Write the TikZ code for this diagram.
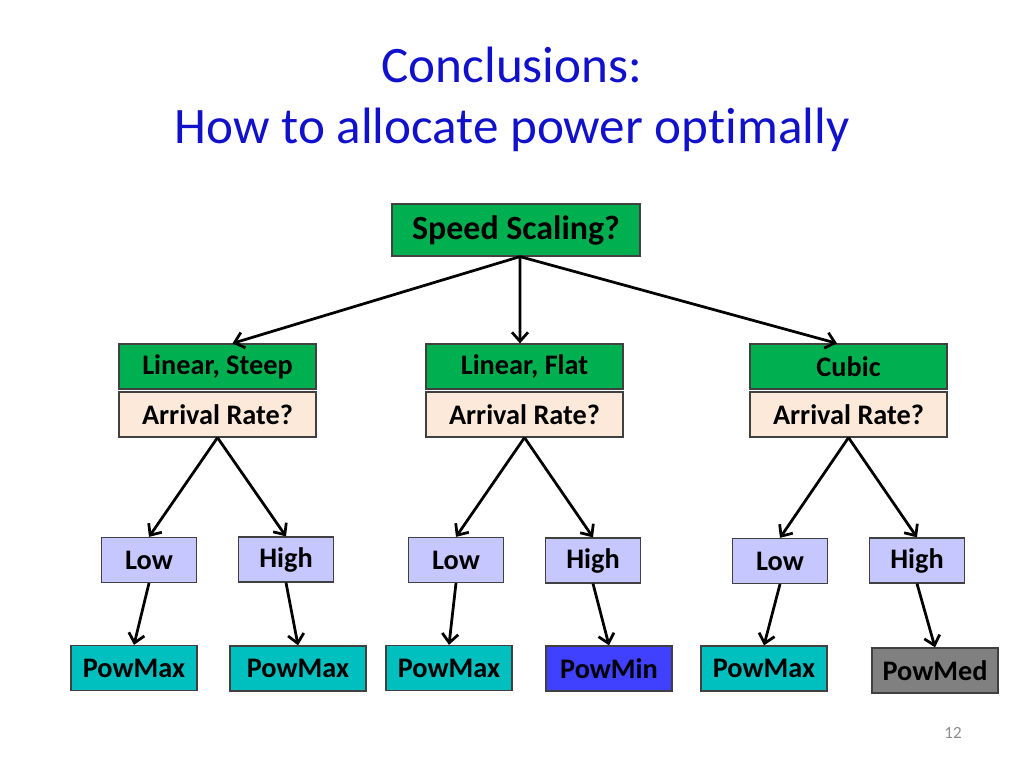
\documentclass[tikz,border=0pt]{standalone}
\usepackage{fontspec}
\setmainfont{Carlito}[Ligatures=CommonOff]
\usetikzlibrary{arrows.meta}
\definecolor{titleblue}{RGB}{17,17,204}
\definecolor{slidegreen}{RGB}{0,176,80}
\definecolor{peach}{RGB}{253,233,217}
\definecolor{lavender}{RGB}{199,199,255}
\definecolor{teal}{RGB}{0,191,191}
\definecolor{minblue}{RGB}{64,64,255}
\definecolor{medgray}{RGB}{128,128,128}
\begin{document}
\begin{tikzpicture}[x=0.2mm,y=-0.2mm,
    box/.style={draw=black!75,line width=0.25mm,inner sep=0pt,minimum height=9mm,
      font=\fontsize{16.1}{18}\selectfont\bfseries},
    branch/.style={box,fill=slidegreen,minimum width=39.4mm},
    question/.style={box,fill=peach,minimum width=39.4mm},
    rate/.style={box,fill=lavender,minimum width=18.9mm},
    policy/.style={box,fill=teal,minimum width=25.2mm},
    arr/.style={line width=0.55mm,-{Straight Barb[length=1.8mm,width=3.2mm]}}]
\useasboundingbox (0,0) rectangle (1024,768);
\node[align=center,text=titleblue,font=\fontsize{29.1}{34.7}\selectfont] (title) at (512,99)
  {Conclusions:\\How to allocate power optimally};
\node[box,fill=slidegreen,minimum width=49.6mm,minimum height=10.4mm,
  font=\fontsize{19.3}{21}\selectfont\bfseries] (speed) at (516,230) {Speed Scaling?};
\node[branch] (steep) at (217.5,366.5) {Linear, Steep};
\node[branch] (flat) at (524.5,366.5) {Linear, Flat};
\node[branch] (cubic) at (848.5,366.5) {Cubic};
\node[question] (q1) at (217.5,414.5) {Arrival Rate?};
\node[question] (q2) at (524.5,414.5) {Arrival Rate?};
\node[question] (q3) at (848.5,414.5) {Arrival Rate?};
\node[rate] (low1) at (149,560) {Low};
\node[rate] (high1) at (286,559.5) {High};
\node[rate] (low2) at (456,560) {Low};
\node[rate] (high2) at (593,560.5) {High};
\node[rate] (low3) at (780,561) {Low};
\node[rate] (high3) at (917,560.5) {High};
\node[policy] (p1) at (134,668) {PowMax};
\node[policy,minimum width=27.2mm] (p2) at (298,668.5) {PowMax};
\node[policy] (p3) at (449,668) {PowMax};
\node[policy,fill=minblue] (p4) at (609,668.5) {PowMin};
\node[policy] (p5) at (764,668.5) {PowMax};
\node[policy,fill=medgray] (p6) at (935,670.5) {PowMed};
\node[text=black!45,font=\fontsize{9.7}{11}\selectfont] (page) at (953,733) {12};
\draw[arr] ([xshift=0.8mm]speed.south) -- ([xshift=3mm]steep.north);
\draw[arr] ([xshift=0.8mm]speed.south) -- ([xshift=-0.9mm]flat.north);
\draw[arr] ([xshift=0.8mm]speed.south) -- ([xshift=-2.3mm]cubic.north);
\draw[arr] (q1.south) -- (low1.north);
\draw[arr] (q1.south) -- (high1.north);
\draw[arr] (q2.south) -- (low2.north);
\draw[arr] (q2.south) -- (high2.north);
\draw[arr] (q3.south) -- (low3.north);
\draw[arr] (q3.south) -- (high3.north);
\draw[arr] (low1.south) -- (p1.north);
\draw[arr] (high1.south) -- (p2.north);
\draw[arr] (low2.south) -- (p3.north);
\draw[arr] (high2.south) -- (p4.north);
\draw[arr] (low3.south) -- (p5.north);
\draw[arr] (high3.south) -- (p6.north);
\end{tikzpicture}
\end{document}
